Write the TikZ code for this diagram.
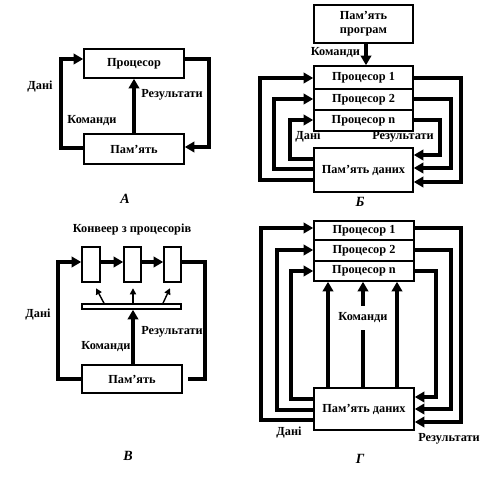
\documentclass[tikz,border=0pt]{standalone}
\usepackage{fontspec}
\setmainfont{Liberation Serif}
\usetikzlibrary{arrows.meta, positioning}

\newcommand{\pxl}{0.02cm}
\tikzset{
  blk/.style={draw, line width=0.9pt, inner sep=0pt, align=center,
    font=\bfseries\fontsize{7}{8}\selectfont},
  flow/.style={line width=2.3pt, -{Triangle[length=5.5pt,width=6pt]}},
  tick/.style={line width=0.8pt, -{Triangle[length=3.5pt,width=3.5pt]}},
  lbl/.style={inner sep=1pt, font=\bfseries\fontsize{7}{8}\selectfont},
  panelcap/.style={font=\bfseries\itshape\fontsize{8}{9}\selectfont}
}

\begin{document}
\begin{tikzpicture}[x=0.02cm, y=-0.02cm]
    \useasboundingbox (0,0) rectangle (485,480);

    % A
    \node [blk, minimum width=100*\pxl, minimum height=29*\pxl] (procA) at (134 , 63.5) {Процесор};
    \node [blk, minimum width=100*\pxl, minimum height=30*\pxl] (memA) at (134 , 149) {Пам’ять};
    \draw[flow] (memA.west |- 0,148) -- ++(-22,0) |- (procA.west |- 0,59);
    \draw[flow] (procA.east |- 0,59) -- ++(24,0) |- (memA.east |- 0,147);
    \draw[flow] (memA.north) -- (procA.south);
    \node [lbl] (daniA) at (40 , 87) {Дані};
    \node [lbl] (resA) at (172 , 95) {Результати};
    \node [lbl] (komA) at (92 , 121) {Команди};
    \node [panelcap] (capA) at (125 , 199) {А};

    % Б
    \node [blk, minimum width=99*\pxl, minimum height=38*\pxl] (progB) at (363.5 , 24) {Пам’ять\\програм};
    \node [blk, minimum width=99*\pxl, minimum height=23*\pxl] (p1B) at (363.5 , 77.5) {Процесор 1};
    \node [blk, minimum width=99*\pxl, minimum height=21*\pxl] (p2B) at (363.5 , 99.5) {Процесор 2};
    \node [blk, minimum width=99*\pxl, minimum height=21*\pxl] (pnB) at (363.5 , 120.5) {Процесор n};
    \node [blk, minimum width=99*\pxl, minimum height=44*\pxl] (memB) at (363.5 , 170) {Пам’ять даних};
    \draw[flow] (progB.south -| 366,0) -- (p1B.north -| 366,0);
    \draw[flow] (memB.west |- 0,180) -- ++(-53,0) |- (p1B.west |- 0,78);
    \draw[flow] (memB.west |- 0,169) -- ++(-39,0) |- (p2B.west |- 0,99);
    \draw[flow] (memB.west |- 0,159) -- ++(-23,0) |- (pnB.west |- 0,120);
    \draw[flow] (p1B.east |- 0,78) -- ++(47,0) |- (memB.east |- 0,182);
    \draw[flow] (p2B.east |- 0,99) -- ++(37,0) |- (memB.east |- 0,168);
    \draw[flow] (pnB.east |- 0,120) -- ++(26,0) |- (memB.east |- 0,155);
    \node [lbl, anchor=east] (komB) at (362 , 53) {Команди};
    \node [lbl] (daniB) at (308 , 137) {Дані};
    \node [lbl] (resB) at (403 , 137) {Результати};
    \node [panelcap] (capB) at (360 , 202) {Б};

    % В
    \node [lbl] (titleV) at (132 , 230) {Конвеер з процесорів};
    \node [blk, minimum width=18*\pxl, minimum height=35*\pxl] (b1) at (91 , 264.5) {};
    \node [blk, minimum width=17*\pxl, minimum height=35*\pxl] (b2) at (132.5 , 264.5) {};
    \node [blk, minimum width=17*\pxl, minimum height=35*\pxl] (b3) at (172.5 , 264.5) {};
    \node [blk, minimum width=99*\pxl, minimum height=5*\pxl] (bar) at (131.5 , 306.5) {};
    \node [blk, minimum width=100*\pxl, minimum height=28*\pxl] (memV) at (132 , 379) {Пам’ять};
    \draw[flow] (b1.east |- 0,262) -- (b2.west |- 0,262);
    \draw[flow] (b2.east |- 0,262) -- (b3.west |- 0,262);
    \draw[tick] (bar.north -| 104,0) -- ++(-8,-15);
    \draw[tick] (bar.north -| 133,0) -- ++(0,-15);
    \draw[tick] (bar.north -| 163,0) -- ++(7,-15);
    \draw[flow] (memV.north -| 133,0) -- (bar.south -| 133,0);
    \draw[flow] (memV.west) -- ++(-23,0) |- (b1.west |- 0,262);
    \draw[flow, -, shorten >=3pt] (b3.east |- 0,262) -- ++(23,0) |- (memV.east);
    \node [lbl] (daniV) at (38 , 315) {Дані};
    \node [lbl] (resV) at (172 , 332) {Результати};
    \node [lbl] (komV) at (106 , 347) {Команди};
    \node [panelcap] (capV) at (128 , 456) {В};

    % Г
    \node [blk, minimum width=100*\pxl, minimum height=19*\pxl] (p1G) at (364 , 230.5) {Процесор 1};
    \node [blk, minimum width=100*\pxl, minimum height=21*\pxl] (p2G) at (364 , 250.5) {Процесор 2};
    \node [blk, minimum width=100*\pxl, minimum height=20*\pxl] (pnG) at (364 , 271) {Процесор n};
    \node [blk, minimum width=100*\pxl, minimum height=42*\pxl] (memG) at (364 , 409) {Пам’ять даних};
    \draw[flow] (memG.north -| 328,0) -- (pnG.south -| 328,0);
    \draw[flow] (memG.north -| 363,0) -- (pnG.south -| 363,0);
    \draw[flow] (memG.north -| 397,0) -- (pnG.south -| 397,0);
    \draw[flow] (memG.west |- 0,420) -- ++(-52,0) |- (p1G.west |- 0,228);
    \draw[flow] (memG.west |- 0,410) -- ++(-36,0) |- (p2G.west |- 0,250);
    \draw[flow] (memG.west |- 0,399) -- ++(-22,0) |- (pnG.west |- 0,271);
    \draw[flow] (p1G.east |- 0,228) -- ++(46,0) |- (memG.east |- 0,422);
    \draw[flow] (p2G.east |- 0,250) -- ++(36,0) |- (memG.east |- 0,409);
    \draw[flow] (pnG.east |- 0,271) -- ++(21,0) |- (memG.east |- 0,397);
    \node [lbl, fill=white, inner ysep=4pt] (komG) at (363 , 318) {Команди};
    \node [lbl] (daniG) at (289 , 433) {Дані};
    \node [lbl] (resG) at (449 , 439) {Результати};
    \node [panelcap] (capG) at (360 , 459) {Г};
\end{tikzpicture}
\end{document}
